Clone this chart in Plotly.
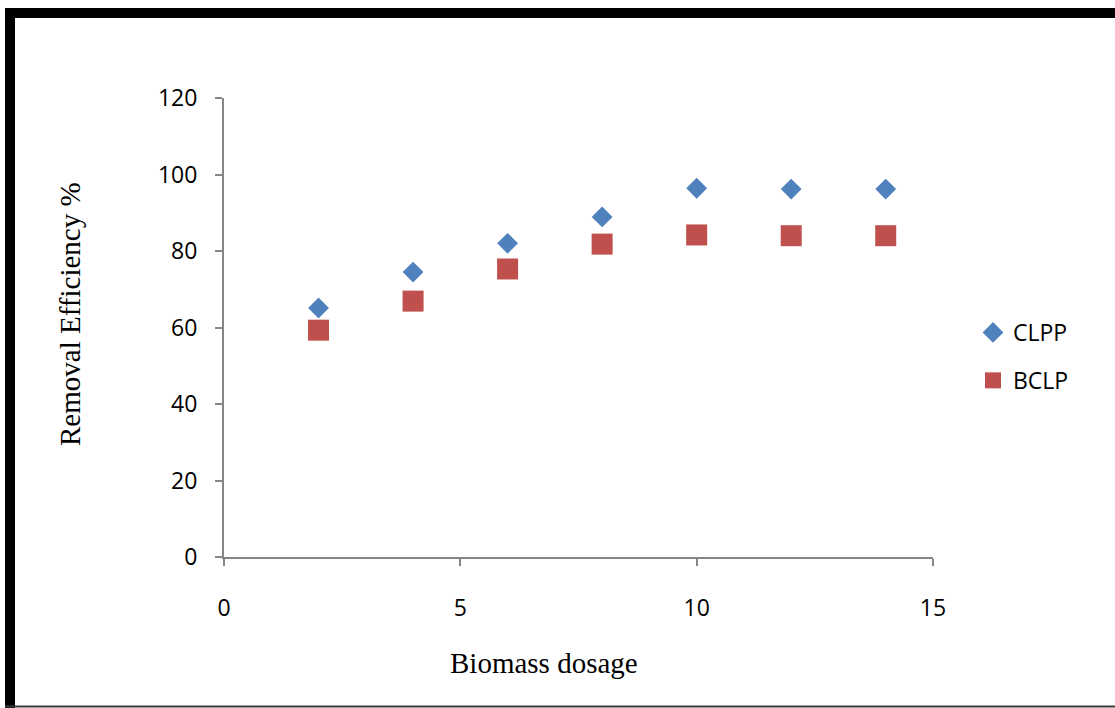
import plotly.graph_objects as go

dosage = [2, 4, 6, 8, 10, 12, 14]
clpp = [65.1, 74.5, 82.0, 88.9, 96.4, 96.2, 96.2]
bclp = [59.3, 66.9, 75.3, 81.8, 84.2, 84.0, 84.0]

W, H = 1115, 708
L, R, T, B = 224, 933, 98, 557

def px_x(px):
    return (px - L) / (R - L)

def px_y(py):
    return (B - py) / (B - T)

fig = go.Figure()
fig.add_trace(go.Scatter(x=dosage, y=clpp, mode="markers", name="CLPP", legendgroup="a",
                         marker=dict(symbol="diamond", size=16, color="#4F81BD")))
fig.add_trace(go.Scatter(x=dosage, y=bclp, mode="markers", name="BCLP", legendgroup="b",
                         marker=dict(symbol="square", size=21, color="#C0504D")))

axis_common = dict(showline=True, linecolor="#868686", linewidth=2, ticks="outside",
                   tickcolor="#868686", ticklen=7, tickwidth=2, showgrid=False, zeroline=False,
                   tickfont=dict(family="Open Sans", size=23, color="#000000"))

fig.update_xaxes(range=[0, 15], dtick=5, tick0=0, ticklabelstandoff=22, **axis_common)
fig.update_yaxes(range=[0, 120], dtick=20, tick0=0, ticklabelstandoff=13, **axis_common)

shapes = [
    dict(type="line", xref="paper", yref="paper", x0=px_x(10), x1=px_x(10),
         y0=px_y(8), y1=px_y(708), line=dict(color="#000000", width=10)),
    dict(type="line", xref="paper", yref="paper", x0=px_x(5), x1=px_x(1115),
         y0=px_y(13), y1=px_y(13), line=dict(color="#000000", width=10)),
    dict(type="line", xref="paper", yref="paper", x0=px_x(5), x1=px_x(1115),
         y0=px_y(706.5), y1=px_y(706.5), line=dict(color="#3a3a3a", width=2)),
]

annotations = [
    dict(text="Biomass dosage", xref="paper", yref="paper", x=px_x(544), y=px_y(663),
         showarrow=False, xanchor="center", yanchor="middle",
         font=dict(family="Liberation Serif", size=29, color="#000000")),
    dict(text="Removal Efficiency %", xref="paper", yref="paper", x=px_x(70), y=px_y(314),
         showarrow=False, xanchor="center", yanchor="middle", textangle=-90,
         font=dict(family="Liberation Serif", size=29, color="#000000")),
]

fig.update_layout(
    width=W, height=H,
    margin=dict(l=L, r=W - R, t=T, b=H - B),
    paper_bgcolor="white", plot_bgcolor="white",
    shapes=shapes, annotations=annotations,
    showlegend=True,
    legend=dict(x=px_x(973), y=px_y(311), xanchor="left", yanchor="top",
                font=dict(family="Open Sans", size=23, color="#000000"),
                tracegroupgap=15, itemwidth=30, bgcolor="rgba(0,0,0,0)"),
)

fig.write_html("out.html")
